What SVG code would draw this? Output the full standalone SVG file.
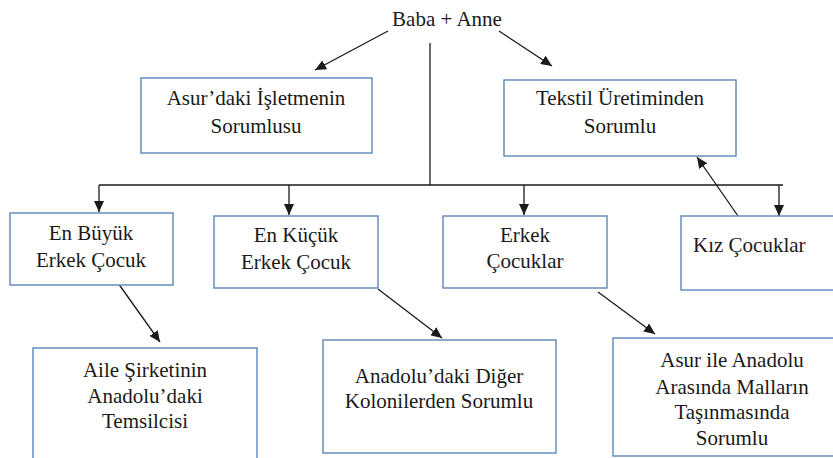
<svg xmlns="http://www.w3.org/2000/svg" width="833" height="458" viewBox="0 0 833 458">
<style>
  .box { fill: #ffffff; stroke: #5b86b8; stroke-width: 1.4; }
  .t { font-family: "Liberation Serif", Tinos, "Nimbus Roman", "DejaVu Serif", "Noto Serif", serif; font-size: 21px; fill: #1a1a1a; text-anchor: middle; }
  .c { stroke: #1a1a1a; stroke-width: 1.3; fill: none; }
  .a { marker-end: url(#ah); }
</style>
<defs>
  <marker id="ah" markerUnits="userSpaceOnUse" markerWidth="12" markerHeight="10" refX="11" refY="5" orient="auto">
    <path d="M0,0 L11,5 L0,10 z" fill="#1a1a1a"/>
  </marker>
</defs>
<rect width="833" height="458" fill="#ffffff"/>

<g id="connectors">
  <line class="c a" x1="388" y1="31" x2="315" y2="70"/>
  <line class="c a" x1="499" y1="31" x2="552" y2="66"/>
  <line class="c" x1="430" y1="43" x2="430" y2="185"/>
  <line class="c" x1="99" y1="185" x2="783" y2="185"/>
  <line class="c a" x1="99" y1="185" x2="99" y2="212"/>
  <line class="c a" x1="289" y1="185" x2="289" y2="215"/>
  <line class="c a" x1="524" y1="185" x2="524" y2="215"/>
  <line class="c a" x1="779" y1="185" x2="779" y2="216"/>
  <line class="c a" x1="738" y1="216" x2="697" y2="157"/>
  <line class="c a" x1="118" y1="283" x2="160" y2="342"/>
  <line class="c a" x1="378" y1="289" x2="442" y2="338"/>
  <line class="c a" x1="598" y1="292" x2="655" y2="334"/>
</g>

<g id="root">
  <text class="t" x="447" y="26" font-family="Liberation Serif, serif">Baba + Anne</text>
</g>

<g id="asur-isletme">
  <rect class="box" x="141" y="78" width="231" height="75"/>
  <text class="t" x="256" y="105">Asur’daki İşletmenin</text>
  <text class="t" x="256" y="133">Sorumlusu</text>
</g>

<g id="tekstil">
  <rect class="box" x="504" y="80" width="232" height="76"/>
  <text class="t" x="620" y="105">Tekstil Üretiminden</text>
  <text class="t" x="620" y="133">Sorumlu</text>
</g>

<g id="en-buyuk">
  <rect class="box" x="10" y="213" width="163" height="72"/>
  <text class="t" x="91" y="240">En Büyük</text>
  <text class="t" x="91" y="267">Erkek Çocuk</text>
</g>

<g id="en-kucuk">
  <rect class="box" x="214" y="216" width="164" height="72"/>
  <text class="t" x="296" y="242">En Küçük</text>
  <text class="t" x="296" y="269">Erkek Çocuk</text>
</g>

<g id="erkek-cocuklar">
  <rect class="box" x="443" y="216" width="164" height="72"/>
  <text class="t" x="525" y="242">Erkek</text>
  <text class="t" x="525" y="268">Çocuklar</text>
</g>

<g id="kiz-cocuklar">
  <rect class="box" x="681" y="216" width="160" height="74"/>
  <text class="t" x="693" y="252" style="text-anchor:start">Kız Çocuklar</text>
</g>

<g id="aile-sirketi">
  <rect class="box" x="33" y="348" width="224" height="122"/>
  <text class="t" x="145" y="377">Aile Şirketinin</text>
  <text class="t" x="145" y="403">Anadolu’daki</text>
  <text class="t" x="145" y="428">Temsilcisi</text>
</g>

<g id="diger-koloniler">
  <rect class="box" x="323" y="340" width="233" height="113"/>
  <text class="t" x="439" y="383">Anadolu’daki Diğer</text>
  <text class="t" x="439" y="408">Kolonilerden Sorumlu</text>
</g>

<g id="mal-tasima">
  <rect class="box" x="613" y="338" width="228" height="118"/>
  <text class="t" x="732" y="367">Asur ile Anadolu</text>
  <text class="t" x="732" y="394">Arasında Malların</text>
  <text class="t" x="732" y="419">Taşınmasında</text>
  <text class="t" x="732" y="445">Sorumlu</text>
</g>
</svg>
